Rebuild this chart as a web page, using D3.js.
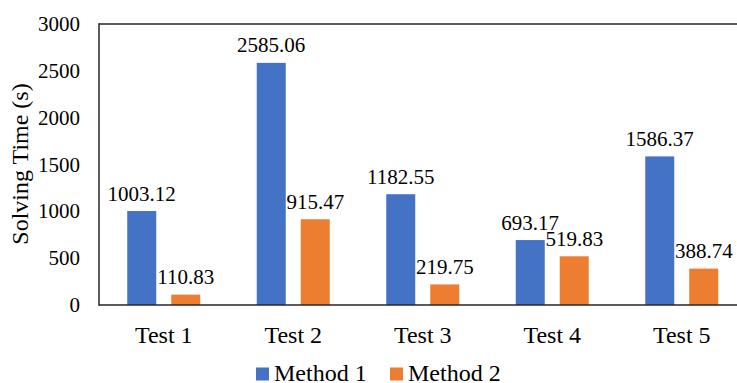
<!DOCTYPE html>
<html>
<head>
<meta charset="utf-8">
<script src="https://cdn.jsdelivr.net/npm/d3@7"></script>
</head>
<body style="margin:0">
<svg id="chart" width="737" height="383"></svg>
<script>
const categories = ["Test 1", "Test 2", "Test 3", "Test 4", "Test 5"];
const seriesNames = ["Method 1", "Method 2"];
const method1 = [1003.12, 2585.06, 1182.55, 693.17, 1586.37];
const method2 = [110.83, 915.47, 219.75, 519.83, 388.74];
const yTicks = [0, 500, 1000, 1500, 2000, 2500, 3000];
const colors = ["#4472C4", "#ED7D31"];

const series = [method1, method2];
const svg = d3.select("#chart");
const FONT = '"Liberation Serif"';

const mLeft = 99, mTop = 24, mBottom = 305, mRight = 746.5;

const x0 = d3.scaleBand().domain(categories).range([mLeft, mRight]).padding(0);
const bw = x0.bandwidth();
const x1 = d3.scaleBand().domain(seriesNames).range([28.25, bw - 28.25]).paddingInner(0.341).paddingOuter(0);
const y = d3.scaleLinear().domain([0, 3000]).range([mBottom, mTop]);

// bars and value labels
categories.forEach((c, ci) => {
  seriesNames.forEach((s, si) => {
    const v = series[si][ci];
    svg.append("rect")
      .attr("x", x0(c) + x1(s))
      .attr("width", x1.bandwidth())
      .attr("y", y(v))
      .attr("height", y(0) - y(v))
      .attr("fill", colors[si]);
    svg.append("text")
      .attr("x", x0(c) + x1(s) + x1.bandwidth() / 2)
      .attr("y", y(v) - 10.5)
      .attr("text-anchor", "middle")
      .style("font-family", FONT)
      .attr("font-size", 21)
      .text(v.toFixed(2));
  });
});

// frame lines
svg.append("line").attr("x1", mLeft).attr("x2", 737).attr("y1", y(3000)).attr("y2", y(3000))
  .attr("stroke", "#262626").attr("stroke-width", 1.5);
svg.append("line").attr("x1", mLeft).attr("x2", 737).attr("y1", y(0)).attr("y2", y(0))
  .attr("stroke", "#262626").attr("stroke-width", 1.5);
svg.append("line").attr("x1", mLeft).attr("x2", mLeft).attr("y1", y(3000) - 0.75).attr("y2", y(0) + 0.75)
  .attr("stroke", "#262626").attr("stroke-width", 1.5);

// y tick labels
yTicks.forEach(t => {
  svg.append("text")
    .attr("x", mLeft - 19)
    .attr("y", y(t) + 7)
    .attr("text-anchor", "end")
    .style("font-family", FONT)
    .attr("font-size", 21)
    .text(d3.format("d")(t));
});

// category labels
categories.forEach(c => {
  svg.append("text")
    .attr("x", x0(c) + bw / 2)
    .attr("y", 342.5)
    .attr("text-anchor", "middle")
    .style("font-family", FONT)
    .attr("font-size", 24)
    .text(c);
});

// y title
svg.append("text")
  .attr("transform", "translate(28,164) rotate(-90)")
  .attr("text-anchor", "middle")
  .style("font-family", FONT)
  .attr("font-size", 24)
  .text("Solving Time (s)");

// legend
const legendX = [256, 390];
seriesNames.forEach((s, i) => {
  svg.append("rect").attr("x", legendX[i]).attr("y", 367.5).attr("width", 13).attr("height", 13).attr("fill", colors[i]);
  svg.append("text").attr("x", legendX[i] + 18).attr("y", 380.5)
    .style("font-family", FONT)
    .attr("font-size", 24)
    .text(s);
});
</script>
</body>
</html>
